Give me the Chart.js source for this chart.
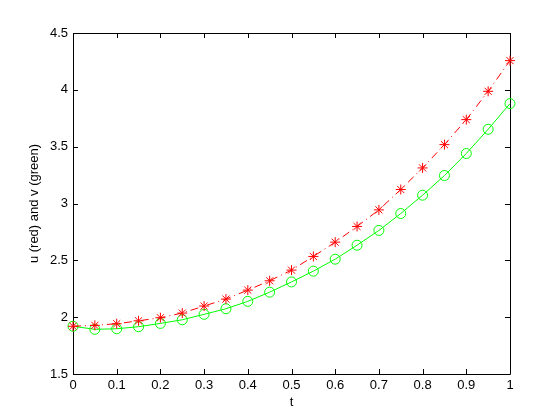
<!DOCTYPE html>
<html>
<head>
<meta charset="utf-8">
<script src="https://cdn.jsdelivr.net/npm/chart.js@4/dist/chart.umd.min.js"></script>
<style>
  html, body { margin: 0; padding: 0; background: #fff; }
  #wrap { width: 560px; height: 420px; }
</style>
</head>
<body>
<div id="wrap"><canvas id="plot"></canvas></div>
<script>
// t values and both series
var tValues = [0, 0.05, 0.1, 0.15, 0.2, 0.25, 0.3, 0.35, 0.4, 0.45, 0.5,
               0.55, 0.6, 0.65, 0.7, 0.75, 0.8, 0.85, 0.9, 0.95, 1];
var uValues = [1.92, 1.928, 1.942, 1.968, 1.995, 2.036, 2.098, 2.159, 2.238, 2.32, 2.414,
               2.534, 2.66, 2.798, 2.944, 3.123, 3.313, 3.518, 3.738, 3.987, 4.257];
var vValues = [1.92, 1.893, 1.898, 1.916, 1.945, 1.977, 2.025, 2.074, 2.139, 2.22, 2.31,
               2.405, 2.51, 2.633, 2.763, 2.912, 3.073, 3.246, 3.44, 3.653, 3.879];
var xTicks = [0, 0.1, 0.2, 0.3, 0.4, 0.5, 0.6, 0.7, 0.8, 0.9, 1];
var yTicks = [1.5, 2, 2.5, 3, 3.5, 4, 4.5];

function toPoints(xs, ys) {
  return xs.map(function (x, i) { return { x: x, y: ys[i] }; });
}

var fontFamily = '"Liberation Sans", Arial, Helvetica, sans-serif';

// box round the axes and inward tick marks, MATLAB style
var boxPlugin = {
  id: 'box',
  beforeDatasetsDraw: function (chart) {
    var ctx = chart.ctx;
    var a = chart.chartArea;
    var xs = chart.scales.x, ys = chart.scales.y;
    var len = 5;
    ctx.save();
    ctx.strokeStyle = '#000';
    ctx.lineWidth = 1;
    ctx.beginPath();
    ctx.rect(Math.round(a.left) + 0.5, Math.round(a.top) + 0.5,
             Math.round(a.right - a.left), Math.round(a.bottom - a.top));
    xTicks.forEach(function (t) {
      var px = Math.round(xs.getPixelForValue(t)) + 0.5;
      ctx.moveTo(px, a.bottom); ctx.lineTo(px, a.bottom - len);
      ctx.moveTo(px, a.top); ctx.lineTo(px, a.top + len);
    });
    yTicks.forEach(function (t) {
      var py = Math.round(ys.getPixelForValue(t)) + 0.5;
      ctx.moveTo(a.left, py); ctx.lineTo(a.left + len, py);
      ctx.moveTo(a.right, py); ctx.lineTo(a.right - len, py);
    });
    ctx.stroke();
    ctx.restore();
  }
};

var ctx = document.getElementById('plot').getContext('2d');
new Chart(ctx, {
  type: 'line',
  data: {
    datasets: [{
      label: 'u',
      data: toPoints(tValues, uValues),
      borderColor: '#ff0000',
      backgroundColor: '#ff0000',
      borderWidth: 1,
      borderDash: [8, 4, 1, 4],
      pointStyle: 'star',
      pointRadius: 5,
      pointBorderWidth: 1,
      pointBorderColor: '#ff0000',
      tension: 0,
      clip: false
    }, {
      label: 'v',
      data: toPoints(tValues, vValues),
      borderColor: '#00ff00',
      backgroundColor: 'rgba(0,0,0,0)',
      borderWidth: 1,
      pointStyle: 'circle',
      pointRadius: 5,
      pointBorderWidth: 1,
      pointBorderColor: '#00ff00',
      pointBackgroundColor: 'rgba(0,0,0,0)',
      tension: 0,
      clip: false
    }]
  },
  options: {
    responsive: true,
    maintainAspectRatio: false,
    animation: false,
    events: [],
    layout: { padding: { top: 33, right: 50, left: 0, bottom: 0 } },
    plugins: {
      legend: { display: false },
      tooltip: { enabled: false }
    },
    scales: {
      x: {
        type: 'linear',
        min: 0,
        max: 1,
        afterFit: function (s) { s.height = 46; },
        afterBuildTicks: function (s) { s.ticks = xTicks.map(function (v) { return { value: v }; }); },
        grid: { display: false, drawTicks: false },
        border: { display: false },
        ticks: {
          padding: 4,
          color: '#000',
          maxRotation: 0,
          autoSkip: false,
          font: { family: fontFamily, size: 13 },
          callback: function (v) { return String(v); }
        },
        title: {
          display: true,
          text: 't',
          color: '#000',
          font: { family: fontFamily, size: 13 },
          padding: { top: 0, bottom: 10 }
        }
      },
      y: {
        type: 'linear',
        min: 1.5,
        max: 4.5,
        afterFit: function (s) { s.width = 73; },
        afterBuildTicks: function (s) { s.ticks = yTicks.map(function (v) { return { value: v }; }); },
        grid: { display: false, drawTicks: false },
        border: { display: false },
        ticks: {
          padding: 5,
          color: '#000',
          autoSkip: false,
          font: { family: fontFamily, size: 13 },
          callback: function (v) { return String(v); }
        },
        title: {
          display: true,
          text: 'u (red) and v (green)',
          color: '#000',
          font: { family: fontFamily, size: 13 },
          padding: { top: 27, bottom: 0 }
        }
      }
    }
  },
  plugins: [boxPlugin]
});
</script>
</body>
</html>
